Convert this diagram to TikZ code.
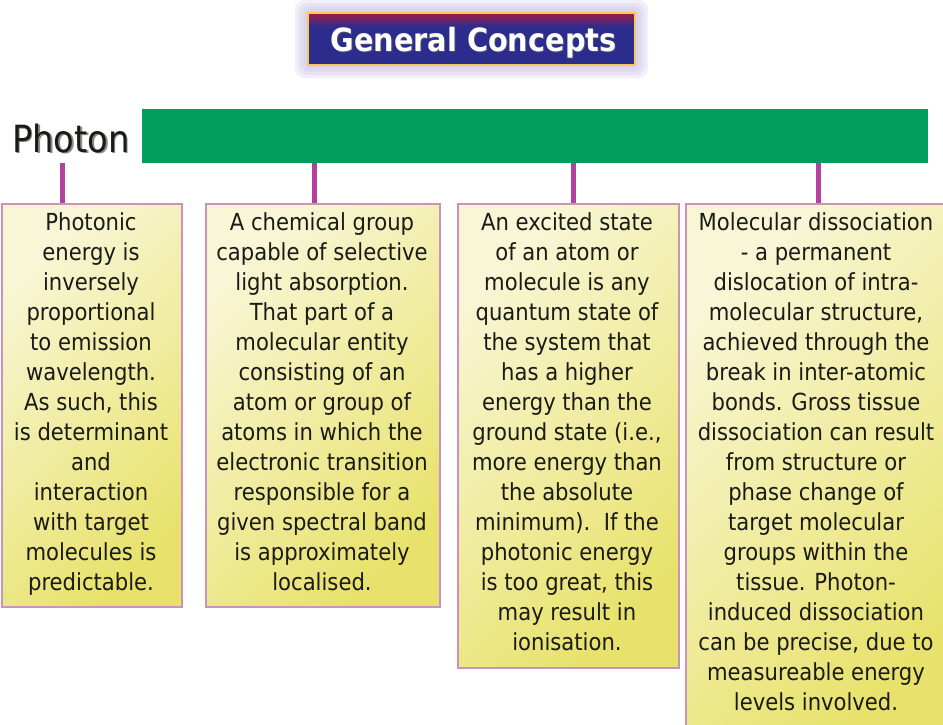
\documentclass[tikz,border=0pt]{standalone}
\usepackage{fontspec}
\setmainfont{DejaVu Sans Condensed}
\definecolor{barGreen}{RGB}{0,158,92}
\definecolor{connMag}{RGB}{178,66,156}
\definecolor{boxLine}{RGB}{204,146,188}
\definecolor{boxCream}{RGB}{248,246,214}
\definecolor{boxYellow}{RGB}{232,226,108}
\definecolor{tRed}{RGB}{210,20,45}
\definecolor{tBlue}{RGB}{44,44,140}
\definecolor{tGold}{RGB}{242,204,86}
\definecolor{glowC}{RGB}{196,184,228}
\definecolor{txtC}{RGB}{26,26,22}
\pgfdeclareverticalshading{titleshade}{100bp}{color(0bp)=(tBlue); color(62bp)=(tBlue); color(80bp)=(tRed); color(100bp)=(tRed)}
\tikzset{
  cbox/.style={draw=boxLine, line width=1.5pt, top color=boxCream, bottom color=boxYellow, shading angle=45, anchor=north west, inner sep=0pt},
  conn/.style={draw=connMag, line width=5pt},
  txt/.style={align=center, font=\fontsize{23.5}{30}\selectfont, text=txtC, inner sep=0pt, anchor=base},
}
\begin{document}
\begin{tikzpicture}[x=1pt,y=-1pt]
\useasboundingbox (0,0) rectangle (943,724);
% title glow
\foreach \g in {13,10,7,4}{
  \fill[glowC, opacity=0.22, rounded corners=9pt] (308-\g,13-\g) rectangle (635+\g,65+\g);
}
\node[draw=tGold, line width=1.2pt, shading=titleshade, minimum width=327pt, minimum height=52pt, inner sep=0pt] (title) at (471.5,39) {};
\node[font=\fontsize{32}{32}\selectfont\bfseries, text=black!60, opacity=0.6, anchor=base] (titleshadow) at (474.5,52) {General Concepts};
\node[font=\fontsize{32}{32}\selectfont\bfseries, text=white, anchor=base] (titletext) at (473.5,51) {General Concepts};
% photon label and bar
\node[font=\fontsize{37.5}{37.5}\selectfont, text=black!45, anchor=base west, inner sep=0pt] (photonshadow) at (13.5,153.5) {Photon};
\node[font=\fontsize{37.5}{37.5}\selectfont, text=txtC, anchor=base west, inner sep=0pt] (photon) at (12,152) {Photon};
\node[fill=barGreen, minimum width=786pt, minimum height=54pt, inner sep=0pt, anchor=north west] (bar) at (142,109) {};
% boxes
\node[cbox, minimum width=180pt, minimum height=403pt] (b1) at (1,203) {};
\node[cbox, minimum width=234pt, minimum height=403pt] (b2) at (205,203) {};
\node[cbox, minimum width=221pt, minimum height=464pt] (b3) at (457,203) {};
\node[cbox, minimum width=262pt, minimum height=540pt] (b4) at (685,203) {};
% connectors
\coordinate (c1) at (62,0);
\coordinate (c2) at (314,0);
\coordinate (c3) at (573,0);
\coordinate (c4) at (818,0);
\draw[conn] (c1 |- bar.south) -- (c1 |- b1.north);
\draw[conn] (c2 |- bar.south) -- (c2 |- b2.north);
\draw[conn] (c3 |- bar.south) -- (c3 |- b3.north);
\draw[conn] (c4 |- bar.south) -- (c4 |- b4.north);
% texts (base anchor = baseline of last line)
\node[txt] (t1) at (91,590) {Photonic\\energy is\\inversely\\proportional\\to emission\\wavelength.\\As such, this\\is determinant\\and\\interaction\\with target\\molecules is\\predictable.};
\node[txt] (t2) at (322,590) {A chemical group\\capable of selective\\light absorption.\\That part of a\\molecular entity\\consisting of an\\atom or group of\\atoms in which the\\electronic transition\\responsible for a\\given spectral band\\is approximately\\localised.};
\node[txt] (t3) at (567,650) {An excited state\\of an atom or\\molecule is any\\quantum state of\\the system that\\has a higher\\energy than the\\ground state (i.e.,\\more energy than\\the absolute\\minimum).\ \ If the\\photonic energy\\is too great, this\\may result in\\ionisation.};
\node[txt] (t4) at (816,710) {Molecular dissociation\\- a permanent\\dislocation of intra-\\molecular structure,\\achieved through the\\break in inter-atomic\\bonds. Gross tissue\\dissociation can result\\from structure or\\phase change of\\target molecular\\groups within the\\tissue. Photon-\\induced dissociation\\can be precise, due to\\measureable energy\\levels involved.};
\end{tikzpicture}
\end{document}
